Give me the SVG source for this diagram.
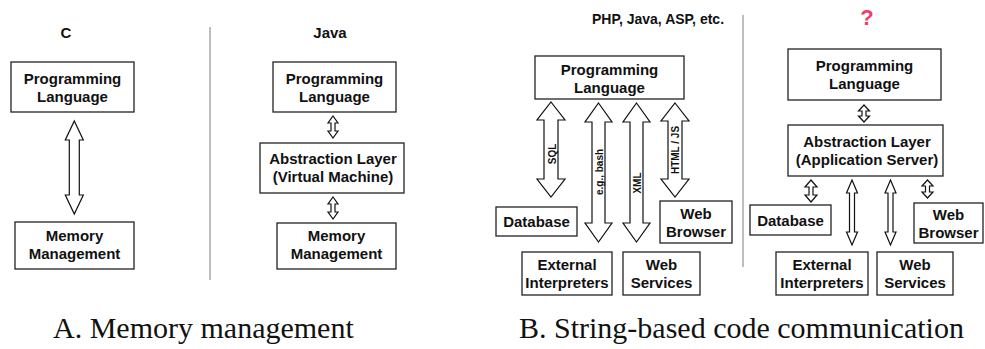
<svg xmlns="http://www.w3.org/2000/svg" width="985" height="349" viewBox="0 0 985 349">
  <style>
    .box { fill: #fff; stroke: #222; stroke-width: 1.3; }
    .lbl { font-family: "Liberation Sans", Arial, sans-serif; font-weight: bold; font-size: 15px; fill: #111; text-anchor: middle; }
    .ttl { font-family: "Liberation Sans", Arial, sans-serif; font-weight: bold; font-size: 15px; fill: #111; text-anchor: middle; }
    .arr { fill: #fff; stroke: #111; stroke-width: 1.2; stroke-linejoin: miter; }
    .alb { font-family: "Liberation Sans", Arial, sans-serif; font-weight: bold; font-size: 10px; fill: #111; text-anchor: middle; }
    .div { stroke: #a8a8a8; stroke-width: 1.5; }
    .cap { font-family: "Liberation Serif", "Times New Roman", serif; font-size: 30px; fill: #111; }
  </style>

  <!-- panel separators -->
  <line class="div" x1="210" y1="27" x2="210" y2="280"/>
  <line class="div" x1="743" y1="15" x2="743" y2="267"/>

  <!-- panel titles -->
  <text class="ttl" x="66" y="38">C</text>
  <text class="ttl" x="330" y="38">Java</text>
  <text class="ttl" x="658" y="24" style="font-size:14px">PHP, Java, ASP, etc.</text>
  <text class="ttl" x="867" y="25" style="font-size:22px;fill:#ee3b6b">?</text>

  <!-- C panel -->
  <g id="c-lang">
    <rect class="box" x="11" y="62" width="123" height="50"/>
    <text class="lbl" x="72.5" y="83.5">Programming</text>
    <text class="lbl" x="72.5" y="101.5">Language</text>
  </g>
  <g id="c-mem">
    <rect class="box" x="15" y="222" width="119" height="47"/>
    <text class="lbl" x="74.5" y="241">Memory</text>
    <text class="lbl" x="74.5" y="259">Management</text>
  </g>

  <!-- Java panel -->
  <g id="j-lang">
    <rect class="box" x="273" y="62" width="123" height="50"/>
    <text class="lbl" x="334.5" y="83.5">Programming</text>
    <text class="lbl" x="334.5" y="101.5">Language</text>
  </g>
  <g id="j-vm">
    <rect class="box" x="260" y="143" width="144" height="50"/>
    <text class="lbl" x="333" y="164">Abstraction Layer</text>
    <text class="lbl" x="333" y="182">(Virtual Machine)</text>
  </g>
  <g id="j-mem">
    <rect class="box" x="277" y="223" width="119" height="46"/>
    <text class="lbl" x="336.5" y="241">Memory</text>
    <text class="lbl" x="336.5" y="259">Management</text>
  </g>

  <!-- string-based panel -->
  <g id="s-lang">
    <rect class="box" x="535" y="56" width="149" height="43"/>
    <text class="lbl" x="609.5" y="74.5">Programming</text>
    <text class="lbl" x="609.5" y="92.5">Language</text>
  </g>
  <g id="s-db">
    <rect class="box" x="496" y="207" width="81" height="29"/>
    <text class="lbl" x="536.5" y="227">Database</text>
  </g>
  <g id="s-browser">
    <rect class="box" x="660" y="201" width="72" height="42"/>
    <text class="lbl" x="696" y="219">Web</text>
    <text class="lbl" x="696" y="237">Browser</text>
  </g>
  <g id="s-interp">
    <rect class="box" x="522" y="252" width="90" height="43"/>
    <text class="lbl" x="567" y="270">External</text>
    <text class="lbl" x="567" y="288">Interpreters</text>
  </g>
  <g id="s-ws">
    <rect class="box" x="623" y="252" width="77" height="43"/>
    <text class="lbl" x="661.5" y="270">Web</text>
    <text class="lbl" x="661.5" y="288">Services</text>
  </g>

  <!-- application server panel -->
  <g id="a-lang">
    <rect class="box" x="788" y="49" width="153" height="51"/>
    <text class="lbl" x="864.5" y="71">Programming</text>
    <text class="lbl" x="864.5" y="89">Language</text>
  </g>
  <g id="a-server">
    <rect class="box" x="788" y="125" width="155" height="51"/>
    <text class="lbl" x="867" y="147">Abstraction Layer</text>
    <text class="lbl" x="867" y="165">(Application Server)</text>
  </g>
  <g id="a-db">
    <rect class="box" x="750" y="205" width="81" height="30"/>
    <text class="lbl" x="790.5" y="225.5">Database</text>
  </g>
  <g id="a-browser">
    <rect class="box" x="914" y="203" width="69" height="40"/>
    <text class="lbl" x="948.5" y="219.5">Web</text>
    <text class="lbl" x="948.5" y="237.5">Browser</text>
  </g>
  <g id="a-interp">
    <rect class="box" x="776" y="252" width="92" height="43"/>
    <text class="lbl" x="822" y="270">External</text>
    <text class="lbl" x="822" y="288">Interpreters</text>
  </g>
  <g id="a-ws">
    <rect class="box" x="877" y="252" width="76" height="43"/>
    <text class="lbl" x="915" y="270">Web</text>
    <text class="lbl" x="915" y="288">Services</text>
  </g>

  <!-- double-headed block arrows -->
  <g id="connectors">
    <polygon class="arr" points="74.3,121 83.3,140 79.3,140 79.3,195 83.3,195 74.3,214 65.3,195 69.3,195 69.3,140 65.3,140"/>

    <polygon class="arr" points="333,116 338,123 335,123 335,131 338,131 333,138 328,131 331,131 331,123 328,123"/>
    <polygon class="arr" points="333,197 338,204 335,204 335,212 338,212 333,219 328,212 331,212 331,204 328,204"/>

    <polygon class="arr" points="551,102 565,120 558,120 558,179 565,179 551,197 537,179 544,179 544,120 537,120"/>
    <polygon class="arr" points="598.5,103 612,122 605,122 605,223 612,223 598.5,242 585,223 592,223 592,122 585,122"/>
    <polygon class="arr" points="636.5,103 650,122 643,122 643,223 650,223 636.5,242 623,223 630,223 630,122 623,122"/>
    <polygon class="arr" points="675,103 689,121 682,121 682,179 689,179 675,197 661,179 668,179 668,121 661,121"/>
    <text class="alb" transform="translate(552,154) rotate(-90)" y="3.5">SQL</text>
    <text class="alb" transform="translate(599,172) rotate(-90)" y="3.5">e.g., bash</text>
    <text class="alb" transform="translate(637,183) rotate(-90)" y="3.5">XML</text>
    <text class="alb" transform="translate(675,150) rotate(-90)" y="3.5">HTML / JS</text>

    <polygon class="arr" points="864,105 869.5,111 866,111 866,116 869.5,116 864,122 858.5,116 862,116 862,111 858.5,111"/>
    <polygon class="arr" points="811,180 817,187 813,187 813,195 817,195 811,202 805,195 809,195 809,187 805,187"/>
    <polygon class="arr" points="852,180 857.5,193 854.5,193 854.5,232 857.5,232 852,245 846.5,232 849.5,232 849.5,193 846.5,193"/>
    <polygon class="arr" points="890.5,180 896,193 893,193 893,232 896,232 890.5,245 885,232 888,232 888,193 885,193"/>
    <polygon class="arr" points="927.5,180 933,186 929.5,186 929.5,192 933,192 927.5,198 922,192 925.5,192 925.5,186 922,186"/>
  </g>

  <!-- sub-figure captions -->
  <text class="cap" x="53" y="338">A. Memory management</text>
  <text class="cap" x="519" y="338">B. String-based code communication</text>
</svg>
